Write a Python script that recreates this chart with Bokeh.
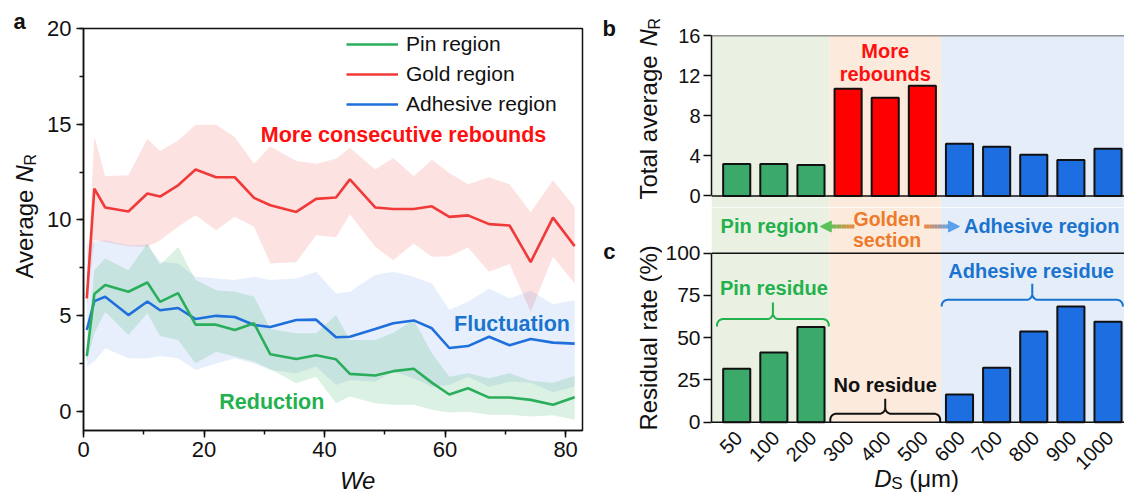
import numpy as np
from math import pi
from bokeh.plotting import figure
from bokeh.layouts import row, column
from bokeh.models import (Range1d, Span, BoxAnnotation, Label, LabelSet, Legend, LegendItem,
                          SingleIntervalTicker, FixedTicker, Arrow, NormalHead,
                          ColumnDataSource)
from bokeh.core.properties import value
from bokeh.embed import file_html
from bokeh.resources import INLINE

FONT = "Liberation Sans"

# ---------------- Panel a data ----------------
we = [0.55, 1.8, 3.6, 7.45, 10.6, 12.7, 15.7, 18.6, 22.0, 25.1, 28.3, 31.0, 35.3, 38.6,
      41.9, 44.2, 48.4, 51.4, 54.8, 57.8, 60.7, 63.8, 67.3, 70.7, 74.2, 77.9, 81.5]
pin_mean = [2.89, 6.13, 6.6, 6.25, 6.73, 5.72, 6.18, 4.53, 4.53, 4.25, 4.6, 2.98, 2.74, 2.93,
            2.72, 1.96, 1.87, 2.1, 2.23, 1.5, 0.88, 1.21, 0.72, 0.72, 0.6, 0.34, 0.74]
pin_upper = [3.2, 7.38, 7.99, 7.38, 8.77, 7.64, 8.59, 6.86, 6.33, 6.25, 5.99, 4.3, 4.08, 4.08,
             5.03, 3.73, 3.73, 4.1, 4.77, 3.03, 1.81, 1.99, 1.73, 1.99, 1.6, 1.5, 1.85]
pin_lower = [2.6, 4.08, 5.2, 3.99, 5.12, 3.94, 3.73, 2.51, 3.12, 2.86, 2.6, 2.2, 1.47, 1.81,
             0.43, 0.77, 0.43, 0.34, 0.34, 0.08, -0.06, -0.02, -0.18, -0.18, -0.27, -0.2, -0.44]
gold_mean = [5.9, 11.64, 10.65, 10.44, 11.38, 11.22, 11.81, 12.63, 12.23, 12.23, 11.15, 10.77,
             10.42, 11.1, 11.17, 12.12, 10.65, 10.57, 10.57, 10.71, 10.16, 10.24, 9.78, 9.71,
             7.8, 10.12, 8.63]
gold_upper = [6.4, 14.36, 12.28, 12.33, 14.24, 13.6, 14.15, 14.97, 14.97, 14.33, 12.94, 13.84,
              13.08, 12.94, 13.2, 13.77, 12.63, 13.23, 12.28, 13.15, 12.45, 11.86, 12.23, 11.86,
              10.4, 12.07, 10.68]
gold_lower = [5.5, 8.94, 8.85, 8.63, 8.6, 8.94, 9.64, 10.25, 9.46, 10.16, 9.64, 7.73, 7.8, 9.2,
              9.1, 10.3, 8.6, 7.9, 8.77, 8.07, 8.1, 8.56, 7.29, 7.7, 5.2, 8.07, 6.68]
adh_mean = [4.25, 5.76, 5.99, 5.03, 5.74, 5.28, 5.40, 4.82, 4.99, 4.93, 4.51, 4.41, 4.77, 4.79,
            3.87, 3.9, 4.3, 4.6, 4.75, 4.34, 3.31, 3.41, 3.9, 3.45, 3.78, 3.59, 3.54]
adh_upper = [8.7, 8.85, 8.94, 8.68, 8.7, 7.81, 7.72, 7.03, 6.94, 6.86, 7.03, 6.86, 6.94, 7.29,
             6.16, 6.25, 7.12, 7.29, 7.03, 6.68, 5.29, 5.72, 6.42, 5.9, 6.3, 5.6, 5.8]
adh_lower = [2.34, 2.6, 3.3, 2.77, 2.77, 2.89, 2.77, 2.16, 2.5, 2.77, 2.5, 2.16, 1.99, 2.34,
             1.38, 1.64, 1.55, 2.08, 1.73, 1.29, 1.38, 1.81, 1.29, 1.55, 1.5, 1.0, 1.3]
series_names = ["Pin region", "Gold region", "Adhesive region"]

# ---------------- Panels b, c data ----------------
sizes = ["50", "100", "200", "300", "400", "500", "600", "700", "800", "900", "1000"]
region = ["Pin"] * 3 + ["Gold"] * 3 + ["Adhesive"] * 5
total_avg = [3.2, 3.2, 3.1, 10.7, 9.8, 11.0, 5.2, 4.9, 4.1, 3.6, 4.7]
residual = [31.6, 41.2, 56.4, 0, 0, 0, 16.4, 32.2, 53.7, 68.5, 59.4]
b_ticks = [0, 4, 8, 12, 16]
c_ticks = [0, 25, 50, 75, 100]

# ---------------- styles ----------------
INK = "#111111"
LC = {"Pin": "#2bae5b", "Gold": "#f03a3a", "Adhesive": "#1f6fdc"}
BAR = {"Pin": "#3aa96a", "Gold": "#ff0000", "Adhesive": "#1d6ee0"}
BG = {"Pin": "#eaf1e2", "Gold": "#fcebdc", "Adhesive": "#e5edf8"}
TXT = {"Pin": "#22b14c", "Gold": "#ee7a2a", "Adhesive": "#1a74cf", "Red": "#ff1010"}


def style_axis(ax, size, tick_out=7, minor_out=0, standoff=5):
    ax.axis_line_width = 1.5
    ax.axis_line_color = INK
    ax.major_tick_line_width = 1.5
    ax.major_tick_line_color = INK
    ax.minor_tick_line_width = 1.5
    ax.minor_tick_line_color = INK
    ax.major_tick_in = 0
    ax.major_tick_out = tick_out
    ax.minor_tick_in = 0
    ax.minor_tick_out = minor_out
    ax.major_label_standoff = standoff
    ax.major_label_text_font = FONT
    ax.major_label_text_font_size = size
    ax.major_label_text_color = INK


def lab(p, x, y, text, size, color=INK, style="normal", align="center", angle=0.0, xo=0, yo=0):
    p.add_layout(Label(x=x, y=y, text=text, text_font=FONT, text_font_size=size,
                       text_color=color, text_font_style=style, text_align=align,
                       text_baseline="middle", angle=angle, x_offset=xo, y_offset=yo))


def blank(w, h):
    p = figure(width=w, height=h, x_range=Range1d(0, w), y_range=Range1d(0, h),
               x_axis_location=None, y_axis_location=None,
               output_backend="svg", toolbar_location=None, min_border=0)
    p.outline_line_color = None
    p.grid.visible = False
    return p


# ======================= Panel a =======================
pa = figure(width=546, height=466, x_range=Range1d(0, 82.8), y_range=Range1d(-1, 20),
            output_backend="svg", toolbar_location=None,
            min_border_left=39, min_border_right=8, min_border_top=28, min_border_bottom=36)
pa.grid.visible = False
pa.outline_line_color = INK
pa.outline_line_width = 1.5

pa.varea(x=we, y1=gold_lower, y2=gold_upper, fill_color=LC["Gold"], fill_alpha=0.15)
pa.varea(x=we, y1=adh_lower, y2=adh_upper, fill_color=LC["Adhesive"], fill_alpha=0.11)
pa.varea(x=we, y1=pin_lower, y2=pin_upper, fill_color=LC["Pin"], fill_alpha=0.17)
r_gold = pa.line(we, gold_mean, line_color=LC["Gold"], line_width=2.6)
r_adh = pa.line(we, adh_mean, line_color=LC["Adhesive"], line_width=2.6)
r_pin = pa.line(we, pin_mean, line_color=LC["Pin"], line_width=2.6)

pa.xaxis.ticker = SingleIntervalTicker(interval=20, num_minor_ticks=2)
pa.yaxis.ticker = SingleIntervalTicker(interval=5, num_minor_ticks=2)
style_axis(pa.xaxis[0], "22px", tick_out=7, minor_out=4, standoff=4)
style_axis(pa.yaxis[0], "22px", tick_out=7, minor_out=4, standoff=5)

leg = Legend(items=[LegendItem(label=series_names[0], renderers=[r_pin]),
                    LegendItem(label=series_names[1], renderers=[r_gold]),
                    LegendItem(label=series_names[2], renderers=[r_adh])],
             location=(263, 314), border_line_color=None, background_fill_alpha=0,
             label_text_font=FONT, label_text_font_size="21px", label_text_color=INK,
             glyph_width=52, glyph_height=20, label_height=20, label_standoff=8,
             spacing=6, padding=4, margin=0)
pa.add_layout(leg)

lab(pa, 53.1, 14.42, "More consecutive rebounds", "21.5px", TXT["Red"], "bold")
lab(pa, 71.1, 4.56, "Fluctuation", "21.5px", TXT["Adhesive"], "bold")
lab(pa, 31.25, 0.51, "Reduction", "21.5px", TXT["Pin"], "bold")

# strip under panel a (x label)
sa = blank(546, 29)
lab(sa, 300, 15, "We", "24px", INK, "italic")

# left strip of panel a (letter + y label "Average N_R")
fa = blank(44, 495)
lab(fa, 19, 474, "a", "22px", INK, "bold")
lab(fa, 24, 279, "Average", "24px", INK, align="left", angle=pi / 2, yo=-62)
lab(fa, 24, 279, "N", "24px", INK, "italic", align="left", angle=pi / 2, yo=34)
lab(fa, 24, 279, "R", "16px", INK, align="left", angle=pi / 2, xo=6, yo=51)

# ======================= Panels b & c =======================
idx = list(range(1, len(sizes) + 1))
bar_colors = [BAR[r] for r in region]
XR = Range1d(0.3209, 11.444)
edges = [3.5, 6.5]
FRAME_W = 416


def add_bg(p, bottom=None):
    kw = {} if bottom is None else {"bottom": bottom}
    p.add_layout(BoxAnnotation(right=edges[0], fill_color=BG["Pin"], fill_alpha=1,
                               line_alpha=0, level="underlay", **kw))
    p.add_layout(BoxAnnotation(left=edges[0], right=edges[1], fill_color=BG["Gold"],
                               fill_alpha=1, line_alpha=0, level="underlay", **kw))
    p.add_layout(BoxAnnotation(left=edges[1], fill_color=BG["Adhesive"], fill_alpha=1,
                               line_alpha=0, level="underlay", **kw))


pb = figure(width=462, height=207, x_range=XR, y_range=Range1d(-1.147, 16),
            output_backend="svg", toolbar_location=None, x_axis_location=None,
            min_border_left=46, min_border_right=0, min_border_top=35, min_border_bottom=0)
pb.grid.visible = False
pb.outline_line_color = None
add_bg(pb)
pb.vbar(x=idx, top=total_avg, bottom=0, width=0.73, fill_color=bar_colors,
        line_color=INK, line_width=2)
pb.add_layout(Span(location=16, dimension="width", line_color="#333333", line_width=1.5))
pb.add_layout(Span(location=0, dimension="width", line_color=INK, line_width=1.5))
pb.yaxis.ticker = FixedTicker(ticks=b_ticks, minor_ticks=[])
pb.yaxis.bounds = (0, 16)
style_axis(pb.yaxis[0], "20px", tick_out=8, standoff=3)

lab(pb, 5.0, 14.5, "More", "20px", TXT["Red"], "bold")
lab(pb, 5.0, 12.2, "rebounds", "20px", TXT["Red"], "bold")

# panel c frame also holds the strip above it and the category labels below it
C_TOP, C_BOT = 127.04, -43.37
pc = figure(width=462, height=288, x_range=XR, y_range=Range1d(C_BOT, C_TOP),
            output_backend="svg", toolbar_location=None, x_axis_location=None,
            min_border_left=46, min_border_right=0, min_border_top=0, min_border_bottom=0)
pc.grid.visible = False
pc.outline_line_color = None
add_bg(pc, bottom=0)
pc.vbar(x=[i for i, v in zip(idx, residual) if v > 0],
        top=[v for v in residual if v > 0], bottom=0, width=0.73,
        fill_color=[c for c, v in zip(bar_colors, residual) if v > 0],
        line_color=INK, line_width=2)
pc.add_layout(Span(location=100, dimension="width", line_color=INK, line_width=1.5))
pc.add_layout(Span(location=0, dimension="width", line_color=INK, line_width=1.5))
pc.yaxis.ticker = FixedTicker(ticks=c_ticks, minor_ticks=[])
pc.yaxis.bounds = (0, 100)
style_axis(pc.yaxis[0], "21px", tick_out=8, standoff=3)

XPX = FRAME_W / (XR.end - XR.start)
YPX = 288 / (C_TOP - C_BOT)


def brace(p, x0, x1, y, h_end, h_tip, color, r=6.0):
    """Curly brace: pixel-sized curves converted to data units."""
    xm = (x0 + x1) / 2
    t1 = np.linspace(pi, pi / 2, 10)
    t2 = np.linspace(-pi / 2, 0, 10)
    half_w = (xm - x0) * XPX
    lx = [0.0] + list(r + r * np.cos(t1)) + list(half_w - r + r * np.cos(t2)) + [half_w]
    ly = [-h_end] + list(-r + r * np.sin(t1)) + list(r + r * np.sin(t2)) + [h_tip]
    lx = np.array(lx)
    ly = np.array(ly)
    xs = np.concatenate([lx, (2 * half_w - lx)[::-1]])
    ys = np.concatenate([ly, ly[::-1]])
    p.line(x0 + xs / XPX, y + ys / YPX, line_color=color, line_width=2)


brace(pc, 0.47, 3.48, 61.0, 7.3, 16.7, TXT["Pin"])
brace(pc, 3.52, 6.48, 5.0, 8.4, 15.0, INK)
brace(pc, 6.52, 11.40, 72.4, 6.7, 16.0, TXT["Adhesive"])

lab(pc, 2.0, 79.6, "Pin residue", "20px", TXT["Pin"], "bold")
lab(pc, 5.0, 22.2, "No residue", "20px", INK, "bold")
lab(pc, 8.93, 89.5, "Adhesive residue", "20px", TXT["Adhesive"], "bold")

# strip between b and c
lab(pc, 3.2, 115.8, "Pin region", "20px", TXT["Pin"], "bold", align="right")
lab(pc, 5.05, 120.2, "Golden", "19.5px", TXT["Gold"], "bold")
lab(pc, 5.05, 108.1, "section", "19.5px", TXT["Gold"], "bold")
lab(pc, 7.12, 115.8, "Adhesive region", "20px", TXT["Adhesive"], "bold", align="left")


def hexmix(c0, c1, t):
    a = [int(c0[i:i + 2], 16) for i in (1, 3, 5)]
    b = [int(c1[i:i + 2], 16) for i in (1, 3, 5)]
    return "#%02x%02x%02x" % tuple(int(round(a[k] + (b[k] - a[k]) * t)) for k in range(3))


def grad_arrow(p, x_tail, x_head, y, c0, c1, n=10):
    shaft_end = x_head + (x_tail - x_head) * 0.25
    xs = np.linspace(x_tail, shaft_end, n + 1)
    cols = [hexmix(c0, c1, (k + 0.5) / n) for k in range(n)]
    p.segment(x0=xs[:-1], y0=[y] * n, x1=xs[1:], y1=[y] * n, line_color=cols, line_width=4)
    p.add_layout(Arrow(end=NormalHead(size=11, fill_color=c1, line_color=c1),
                       x_start=shaft_end, y_start=y, x_end=x_head, y_end=y,
                       line_color=c1, line_width=4))


grad_arrow(pc, 4.17, 3.25, 115.8, "#f0843a", "#5cc158")
grad_arrow(pc, 6.05, 7.0, 115.8, "#f0843a", "#5aa2ef")

# rotated category labels and x label D_S (um) below the c axis
pc.add_layout(LabelSet(source=ColumnDataSource(dict(x=idx, y=[-7.28] * len(idx), t=sizes)),
                       x="x", y="y", text="t", angle=pi / 4, text_align="right",
                       text_baseline="middle", x_offset=2, text_font=value(FONT),
                       text_font_size=value("20px"), text_color=value(INK)))
lab(pc, 5.86, -33.6, "D", "24px", INK, "italic", align="left", xo=-43)
lab(pc, 5.86, -33.6, "S", "17px", INK, align="left", xo=-26, yo=-5)
lab(pc, 5.86, -33.6, "(μm)", "24px", INK, align="left", xo=-8)

# left strip of panels b/c: letters and y labels
fbc = blank(72, 495)
lab(fbc, 18.8, 467.5, "b", "22px", INK, "bold")
lab(fbc, 58, 387, "Total average", "24px", INK, align="left", angle=pi / 2, yo=-91)
lab(fbc, 58, 387, "N", "24px", INK, "italic", align="left", angle=pi / 2, yo=62)
lab(fbc, 58, 387, "R", "16px", INK, align="left", angle=pi / 2, xo=6, yo=79)
lab(fbc, 18.8, 244, "c", "22px", INK, "bold")
lab(fbc, 58, 157.6, "Residual rate (%)", "24px", INK, align="center", angle=pi / 2)

layout = row(fa, column(pa, sa, spacing=0), fbc, column(pb, pc, spacing=0), spacing=0)
open("out.html", "w").write(file_html(layout, INLINE))
